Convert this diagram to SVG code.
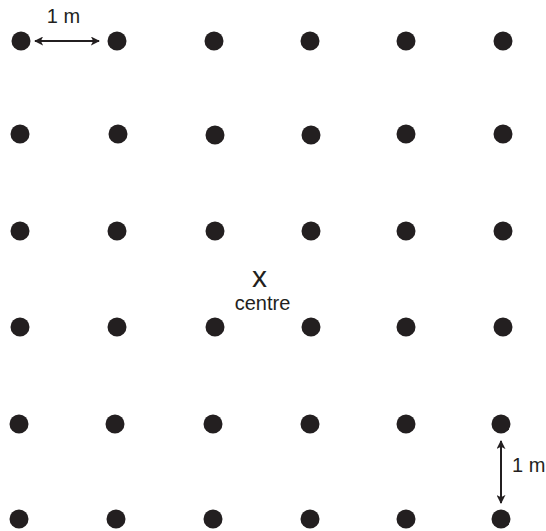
<svg xmlns="http://www.w3.org/2000/svg" width="546" height="531" viewBox="0 0 546 531">
<defs>
<style>
.dot{fill:#231f20}
.lbl{font-family:"Liberation Sans",Arial,sans-serif;fill:#231f20}
.dim{stroke:#231f20;stroke-width:2;fill:none}
</style>
<marker id="ah" viewBox="0 0 10 10" refX="9" refY="5" markerWidth="4.5" markerHeight="4.5" orient="auto-start-reverse" markerUnits="strokeWidth">
<path d="M0,0 L10,5 L0,10 L2.5,5 Z" fill="#231f20"/>
</marker>
</defs>
<rect width="546" height="531" fill="#ffffff"/>
<g id="row1">
<circle class="dot" cx="21" cy="41" r="9.5"/>
<circle class="dot" cx="117" cy="41" r="9.5"/>
<circle class="dot" cx="214" cy="41" r="9.5"/>
<circle class="dot" cx="310" cy="41" r="9.5"/>
<circle class="dot" cx="406" cy="41" r="9.5"/>
<circle class="dot" cx="503" cy="41" r="9.5"/>
</g>
<g id="row2">
<circle class="dot" cx="20" cy="134" r="9.5"/>
<circle class="dot" cx="118" cy="134" r="9.5"/>
<circle class="dot" cx="215" cy="135" r="9.5"/>
<circle class="dot" cx="311" cy="135" r="9.5"/>
<circle class="dot" cx="406" cy="134" r="9.5"/>
<circle class="dot" cx="503" cy="134" r="9.5"/>
</g>
<g id="row3">
<circle class="dot" cx="20" cy="231" r="9.5"/>
<circle class="dot" cx="117" cy="231" r="9.5"/>
<circle class="dot" cx="215" cy="231" r="9.5"/>
<circle class="dot" cx="311" cy="231" r="9.5"/>
<circle class="dot" cx="406" cy="231" r="9.5"/>
<circle class="dot" cx="503" cy="231" r="9.5"/>
</g>
<g id="row4">
<circle class="dot" cx="20" cy="327" r="9.5"/>
<circle class="dot" cx="117" cy="327" r="9.5"/>
<circle class="dot" cx="215" cy="327" r="9.5"/>
<circle class="dot" cx="311" cy="327" r="9.5"/>
<circle class="dot" cx="406" cy="327" r="9.5"/>
<circle class="dot" cx="503" cy="327" r="9.5"/>
</g>
<g id="row5">
<circle class="dot" cx="19" cy="424" r="9.5"/>
<circle class="dot" cx="115" cy="424" r="9.5"/>
<circle class="dot" cx="213" cy="424" r="9.5"/>
<circle class="dot" cx="310" cy="424" r="9.5"/>
<circle class="dot" cx="406" cy="424" r="9.5"/>
<circle class="dot" cx="501" cy="424" r="9.5"/>
</g>
<g id="row6">
<circle class="dot" cx="19" cy="519" r="9.5"/>
<circle class="dot" cx="116" cy="519" r="9.5"/>
<circle class="dot" cx="213" cy="519" r="9.5"/>
<circle class="dot" cx="310" cy="519" r="9.5"/>
<circle class="dot" cx="406" cy="519" r="9.5"/>
<circle class="dot" cx="501" cy="519" r="9.5"/>
</g>
<g id="connectors">
<line class="dim" x1="35" y1="41" x2="99" y2="41" marker-start="url(#ah)" marker-end="url(#ah)"/>
<line class="dim" x1="501" y1="441" x2="501" y2="503" marker-start="url(#ah)" marker-end="url(#ah)"/>
</g>
<g id="labels">
<text class="lbl" x="63.5" y="23" font-size="20" text-anchor="middle">1 m</text>
<text class="lbl" x="512" y="472" font-size="20">1 m</text>
<text class="lbl" x="259.5" y="287" font-size="30" text-anchor="middle">x</text>
<text class="lbl" x="262.5" y="310" font-size="20" text-anchor="middle">centre</text>
</g>
</svg>
